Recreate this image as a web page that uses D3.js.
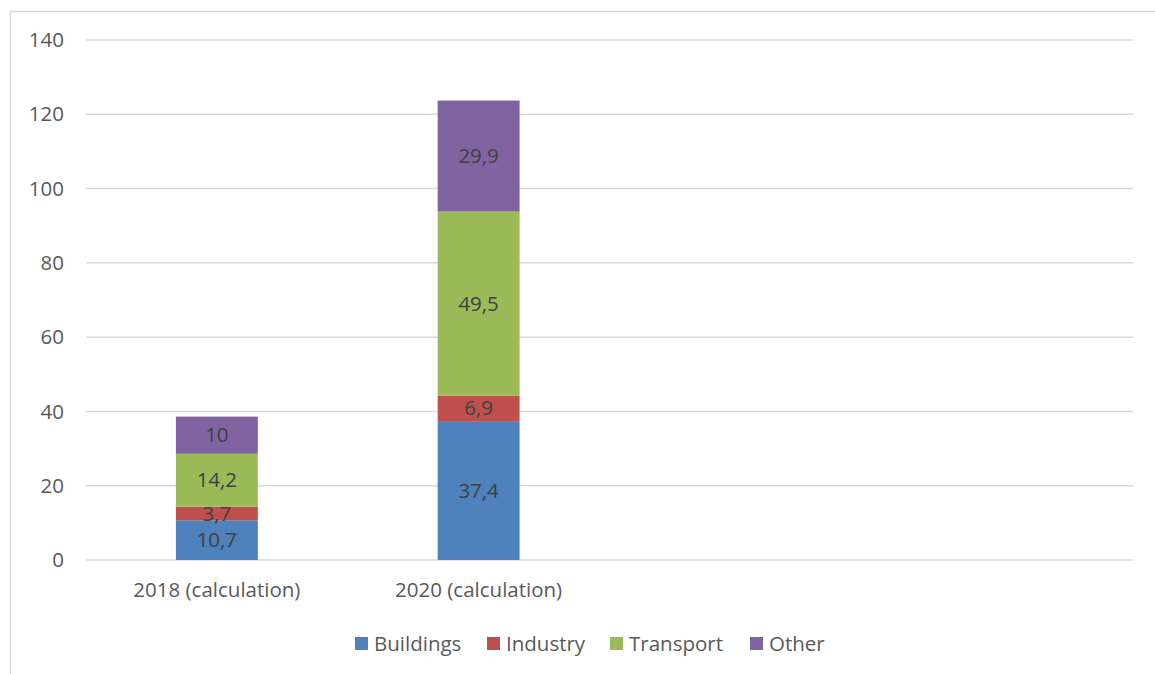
<!DOCTYPE html>
<html>
<head>
<meta charset="utf-8">
<script src="https://cdn.jsdelivr.net/npm/d3@7"></script>
<style>
  body { margin: 0; background: #fff; }
  text { font-family: "Open Sans", sans-serif; }
</style>
</head>
<body>
<div id="chart"></div>
<script>
// chart data
const categories = ["2018 (calculation)", "2020 (calculation)", " ", "  "];
const seriesNames = ["Buildings", "Industry", "Transport", "Other"];
const buildings = [10.7, 37.4];
const industry = [3.7, 6.9];
const transport = [14.2, 49.5];
const other = [10, 29.9];
const yTicks = [0, 20, 40, 60, 80, 100, 120, 140];
const colors = ["#4f81bd", "#c0504d", "#9bbb59", "#8064a2"];

const width = 1155, height = 674;
const margin = {left: 86, right: 22, top: 40, bottom: 114};
const fs = "20.5px";

const svg = d3.select("#chart").append("svg")
  .attr("width", width)
  .attr("height", height);

// outer chart border
svg.append("rect")
  .attr("x", 10.5).attr("y", 11.5)
  .attr("width", 1160).attr("height", 700)
  .attr("fill", "none")
  .attr("stroke", "#d9d9d9")
  .attr("stroke-width", 1.5);

const x = d3.scaleBand()
  .domain(categories)
  .range([margin.left, width - margin.right])
  .paddingInner(0.687)
  .paddingOuter(0.3435);

const y = d3.scaleLinear()
  .domain([0, 140])
  .range([height - margin.bottom, margin.top]);

// gridlines
svg.append("g").selectAll("line")
  .data(yTicks)
  .enter().append("line")
  .attr("x1", margin.left).attr("x2", width - margin.right)
  .attr("y1", d => y(d)).attr("y2", d => y(d))
  .attr("stroke", "#d9d9d9")
  .attr("stroke-width", 1.5);

// y labels
svg.append("g").selectAll("text")
  .data(yTicks)
  .enter().append("text")
  .attr("x", 64)
  .attr("y", d => y(d))
  .attr("dy", "0.35em")
  .attr("text-anchor", "end")
  .attr("fill", "#595959")
  .style("font-size", fs)
  .text(d => d);

// x labels
svg.append("g").selectAll("text")
  .data(categories)
  .enter().append("text")
  .attr("x", d => x(d) + x.bandwidth() / 2)
  .attr("y", 590)
  .attr("dy", "0.35em")
  .attr("text-anchor", "middle")
  .attr("fill", "#595959")
  .style("font-size", fs)
  .text(d => d.trim());

// stack
const rows = categories.slice(0, 2).map((c, i) => ({
  cat: c,
  Buildings: buildings[i],
  Industry: industry[i],
  Transport: transport[i],
  Other: other[i]
}));
const stacked = d3.stack().keys(seriesNames)(rows);
const fmt = v => String(v).replace(".", ",");

const layer = svg.append("g").selectAll("g")
  .data(stacked)
  .enter().append("g")
  .attr("fill", (d, i) => colors[i]);

layer.selectAll("rect")
  .data(d => d)
  .enter().append("rect")
  .attr("x", d => x(d.data.cat))
  .attr("width", x.bandwidth())
  .attr("y", d => y(d[1]))
  .attr("height", d => y(d[0]) - y(d[1]));

layer.selectAll("text")
  .data(d => d.map(p => ({p: p, key: d.key})))
  .enter().append("text")
  .attr("x", d => x(d.p.data.cat) + x.bandwidth() / 2)
  .attr("y", d => (y(d.p[0]) + y(d.p[1])) / 2)
  .attr("dy", "0.35em")
  .attr("text-anchor", "middle")
  .attr("fill", "#404040")
  .style("font-size", fs)
  .text(d => fmt(d.p.data[d.key]));

// legend
const legendX = [355, 487, 610, 750];
const legend = svg.append("g").selectAll("g")
  .data(seriesNames)
  .enter().append("g")
  .attr("transform", (d, i) => "translate(" + legendX[i] + ",637)");
legend.append("rect")
  .attr("width", 13).attr("height", 13)
  .attr("fill", (d, i) => colors[i]);
legend.append("text")
  .attr("x", 19).attr("y", 6.5)
  .attr("dy", "0.35em")
  .attr("fill", "#595959")
  .style("font-size", fs)
  .text(d => d);
</script>
</body>
</html>
